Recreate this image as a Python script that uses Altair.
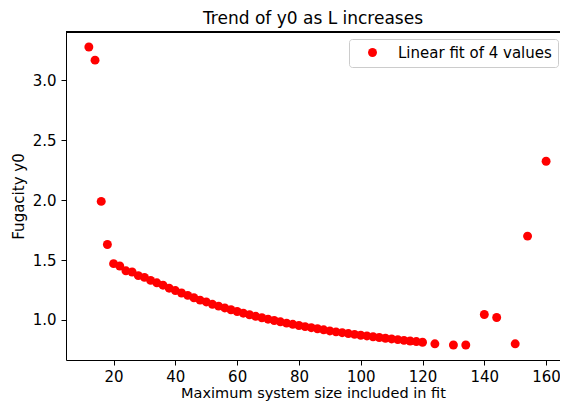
import altair as alt
import pandas as pd

x_values = [12, 14, 16, 18,
            20, 22, 24, 26, 28, 30, 32, 34, 36, 38, 40, 42, 44, 46, 48, 50,
            52, 54, 56, 58, 60, 62, 64, 66, 68, 70, 72, 74, 76, 78, 80,
            82, 84, 86, 88, 90, 92, 94, 96, 98, 100, 102, 104, 106, 108, 110,
            112, 114, 116, 118, 120,
            124, 130, 134, 140, 144, 150, 154, 160]
y_values = [3.28, 3.17, 1.99, 1.63,
            1.47, 1.45, 1.41, 1.40, 1.37, 1.355, 1.33, 1.31, 1.29, 1.265, 1.245, 1.225, 1.205, 1.185, 1.165, 1.15,
            1.13, 1.115, 1.10, 1.085, 1.07, 1.056, 1.043, 1.030, 1.018, 1.006, 0.995, 0.984, 0.973, 0.963, 0.953,
            0.944, 0.935, 0.926, 0.917, 0.908, 0.900, 0.893, 0.886, 0.879, 0.872, 0.866, 0.859, 0.853, 0.847, 0.841,
            0.835, 0.829, 0.824, 0.819, 0.813,
            0.80, 0.79, 0.79, 1.045, 1.02, 0.80, 1.70, 2.325]
series_name = "Linear fit of 4 values"
x_ticks = [20, 40, 60, 80, 100, 120, 140, 160]
y_ticks = [1.0, 1.5, 2.0, 2.5, 3.0]

df = pd.DataFrame({"L": x_values, "y0": y_values, "series": [series_name] * len(x_values)})

FONT = "DejaVu Sans"
W, H = 494, 328

points = alt.Chart(df).mark_point(filled=True, opacity=1, size=80, shape="circle").encode(
    x=alt.X("L:Q", scale=alt.Scale(domain=[4.6, 164.5], nice=False, zero=False),
            axis=alt.Axis(values=x_ticks, title="Maximum system size included in fit",
                          grid=False, format="d")),
    y=alt.Y("y0:Q", scale=alt.Scale(domain=[0.665, 3.405], nice=False, zero=False),
            axis=alt.Axis(values=y_ticks, title="Fugacity y0", grid=False, format=".1f")),
    color=alt.Color("series:N", scale=alt.Scale(domain=[series_name], range=["#ff0000"]),
                    legend=alt.Legend(title=None, orient="none", legendX=283, legendY=7,
                                      padding=6, strokeColor="#cccccc", fillColor="white",
                                      cornerRadius=3, symbolOffset=10, labelOffset=18,
                                      symbolSize=80, symbolType="circle",
                                      labelFontSize=15, labelFont=FONT, labelColor="black")),
)

top_spine = alt.Chart(df).mark_rule(color="black", strokeWidth=1).encode(
    x=alt.value(0), x2=alt.value(W), y=alt.value(0)
)

chart = alt.layer(points, top_spine).properties(
    width=W, height=H,
    autosize=alt.AutoSizeParams(type="none"),
    padding={"left": 58, "top": 24, "right": 0, "bottom": 41},
    title=alt.TitleParams("Trend of y0 as L increases", font=FONT, fontSize=17,
                          fontWeight="normal", color="black", offset=4, anchor="middle"),
).configure_view(stroke=None).configure_axis(
    labelFont=FONT, titleFont=FONT, labelFontSize=15, titleFontSize=15,
    titleFontWeight="normal", labelColor="black", titleColor="black",
    domainColor="black", tickColor="black", tickSize=5, labelPadding=5,
    domainWidth=1, tickWidth=1,
).configure_axisY(titlePadding=6).configure_axisX(titlePadding=2, labelPadding=4, titleFontSize=14.5)

chart.save("out.html", embed_options={"renderer": "svg", "actions": False})
